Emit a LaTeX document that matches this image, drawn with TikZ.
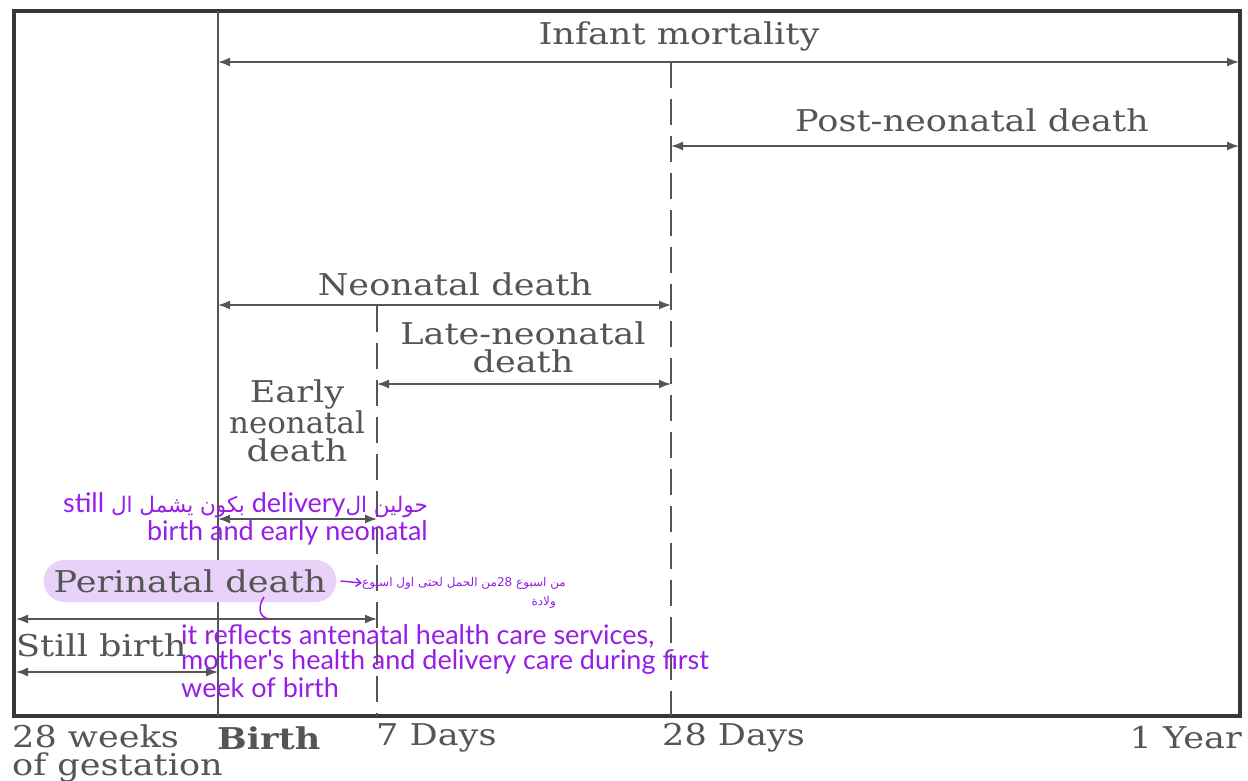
\documentclass[tikz,border=0pt]{standalone}
\usepackage{fontspec}
\setmainfont[FakeStretch=1.17]{DejaVu Serif}
\newfontfamily\hand{Lato}
\newfontfamily\arabicfont[Script=Arabic]{DejaVu Sans}
\TeXXeTstate=1
\usetikzlibrary{arrows.meta}
\definecolor{ink}{RGB}{85,85,85}
\definecolor{frame}{RGB}{55,55,55}
\definecolor{purp}{RGB}{150,30,230}
\definecolor{hl}{RGB}{233,210,250}
\begin{document}
\begin{tikzpicture}[x=1pt,y=-1pt,
 lbl/.style={text=ink,font=\fontsize{30}{28}\selectfont,inner sep=0pt},
 span/.style={draw=ink,line width=1.6pt,{Latex[length=12pt,width=9pt]}-{Latex[length=12pt,width=9pt]}},
 divider/.style={draw=ink,line width=2pt,dash pattern=on 26pt off 11pt},
 note/.style={text=purp,font=\hand\fontsize{27}{26}\selectfont,inner sep=0pt},
]
\useasboundingbox (0,0) rectangle (1248,780);
\fill[white] (0,0) rectangle (1248,780);

% frame and time dividers
\draw[frame,line width=3.5pt] (14,11) rectangle (1240,716);
\draw[ink,line width=2pt] (218,11) -- (218,716);
\draw[divider] (377,306) -- (377,716);
\draw[divider] (671,62) -- (671,716);

% span end points
\coordinate (imL) at (218,62);  \coordinate (imR) at (1239,62);
\coordinate (pnL) at (671,146); \coordinate (pnR) at (1239,146);
\coordinate (nnL) at (218,305); \coordinate (nnR) at (671,305);
\coordinate (lnL) at (377,384); \coordinate (lnR) at (671,384);
\coordinate (enL) at (218,519); \coordinate (enR) at (377,519);
\coordinate (peL) at (16,619);  \coordinate (peR) at (377,619);
\coordinate (sbL) at (16,672);  \coordinate (sbR) at (218,672);

\draw[span] (imL) -- (imR);
\draw[span] (pnL) -- (pnR);
\draw[span] (nnL) -- (nnR);
\draw[span] (lnL) -- (lnR);
\draw[span] (enL) -- (enR);
\draw[span] (peL) -- (peR);
\draw[span] (sbL) -- (sbR);

% labels
\node[lbl] (im) at (679,36) {Infant mortality};
\node[lbl] (pn) at (972,120) {Post-neonatal death};
\node[lbl] (nn) at (455,284) {Neonatal death};
\node[lbl,align=center] (ln) at (523,347) {Late-neonatal\\death};
\node[lbl,align=center] (en) at (297,421) {Early\\\scalebox{0.88}[1]{neonatal}\\death};
\node[lbl,fill=hl,rounded corners=21pt,inner xsep=10pt,minimum height=42pt] (pe) at (190,581) {Perinatal death};
\node[lbl,anchor=west] (sb) at (16,645) {Still birth};

\node[lbl,anchor=north west,align=left] (w28) at (12,724) {28 weeks\\of gestation};
\node[lbl,anchor=west,font=\bfseries\fontsize{30}{28}\selectfont] (birth) at (217,738) {Birth};
\node[lbl,anchor=west] (d7) at (376,738) {7 Days};
\node[lbl,anchor=west] (d28) at (662,738) {28 Days};
\node[lbl,anchor=east] (y1) at (1242,738) {1 Year};

% purple annotations
\node[note,anchor=east] (ar1) at (428,505) {\arabicfont\fontsize{21.5}{26}\selectfont\beginR حولين ال\beginL{\hand\fontsize{27}{26}\selectfont delivery}\endL{} بكون يشمل ال \beginL{\hand\fontsize{27}{26}\selectfont still}\endL\endR};
\node[note,anchor=east] (ar2) at (428,533) {birth and early neonatal};

\node[note,anchor=west] (pnote) at (362,583) {\arabicfont\fontsize{12}{14}\selectfont\beginR من اسبوع \beginL 28\endL{}من الحمل لحتى اول اسبوع\endR};
\node[note,anchor=east] (pnote2) at (556,602) {\arabicfont\fontsize{12}{14}\selectfont\beginR ولادة\endR};
\draw[purp,line width=1.4pt,-{Straight Barb[length=5pt,width=8pt]}] (pe.east) ++(4,0) -- (pnote.west);

\coordinate (hookA) at (264,597);
\coordinate (hookB) at (269,619);
\draw[purp,line width=1.5pt] (hookA) .. controls (258,606) and (258,617) .. (hookB);

\node[note,anchor=west] (r1) at (181,636) {it reflects antenatal health care services,};
\node[note,anchor=west] (r2) at (181,662) {mother's health and delivery care during first};
\node[note,anchor=west] (r3) at (181,688) {week of birth};
\end{tikzpicture}
\end{document}
